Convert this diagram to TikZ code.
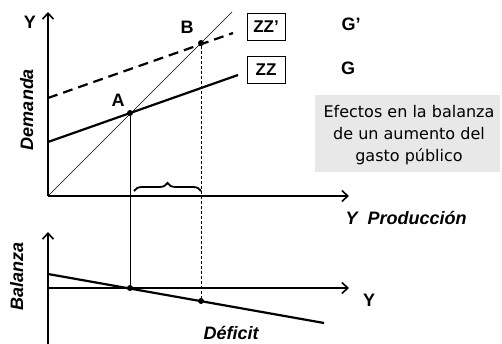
\documentclass[tikz,border=0pt]{standalone}
\usepackage{fontspec}
\setmainfont{Liberation Sans}
\newfontfamily\comicfont{DejaVu Sans}
\usetikzlibrary{arrows.meta,decorations.pathreplacing}
\begin{document}
\begin{tikzpicture}[x=1pt,y=-1pt,
  axis/.style={line width=2.2pt,-{Straight Barb[length=6pt,width=11pt,line width=1.6pt]}},
  curve/.style={line width=2.2pt},
  thinl/.style={line width=0.7pt},
  dot/.style={circle,fill=black,inner sep=0pt,minimum size=6pt},
  lbl/.style={font=\fontsize{18}{20}\selectfont\bfseries},
  ilbl/.style={font=\fontsize{18}{20}\selectfont\bfseries\itshape},
  zzbox/.style={draw,line width=0.8pt,minimum width=38pt,minimum height=27pt,inner sep=0pt,font=\fontsize{17}{19}\selectfont\bfseries}]
\useasboundingbox (0,0) rectangle (502,344);
% coordinates
\coordinate (O) at (48,196);
\coordinate (Ytop) at (48,12);
\coordinate (Xend) at (349,196);
\coordinate (D45) at (232,12);
\coordinate (Z0) at (48,142);
\coordinate (Z1) at (238,75);
\coordinate (Zp0) at (48,98);
\coordinate (Zp1) at (233,33);
\coordinate (LO) at (48,288);
\coordinate (LYtop) at (48,232);
\coordinate (LYbot) at (48,344);
\coordinate (LXend) at (349,288);
\coordinate (N0) at (48,274);
\coordinate (N1) at (324,323);
% gray box
\node[fill=black!9,minimum width=185pt,minimum height=77pt,inner sep=0pt,anchor=north west] (info) at (315,95) {};
\node[align=center,font=\comicfont\fontsize{16}{22}\selectfont] (infotxt) at (409,135) {Efectos en la balanza\\de un aumento del\\gasto público};
% upper axes
\draw[axis] (O) -- (Ytop);
\draw[axis] (O) -- (Xend);
\draw[thinl] (O) -- (D45);
\draw[curve] (Z0) -- (Z1);
\draw[curve,dash pattern=on 10pt off 6pt] (Zp0) -- (Zp1);
\node[dot] (A) at (130,113) {};
\node[dot] (B) at (201,43) {};
% lower axes
\draw[axis] (LYbot) -- (LYtop);
\draw[axis] (LO) -- (LXend);
\draw[curve] (N0) -- (N1);
\node[dot] (A2) at (130,288) {};
\node[dot] (B2) at (201,301) {};
% verticals
\draw[line width=0.8pt] (A) -- (A2);
\draw[line width=0.8pt,densely dashed] (B) -- (B2);
% brace
\coordinate (br0) at (134,191);
\coordinate (br1) at (201,191);
\draw[line width=1.8pt,decorate,decoration={brace,amplitude=8pt}] (br0) -- (br1);
% labels
\node[lbl] (Ylab) at (30,22) {Y};
\node[lbl] (Alab) at (118,100) {A};
\node[lbl] (Blab) at (187,27) {B};
\node[zzbox] (zzp) at (266,26.5) {ZZ'};
\node[zzbox] (zz) at (266,70) {ZZ};
\node[lbl] (Gp) at (351,24) {G'};
\node[lbl] (G) at (348,68) {G};
\node[ilbl,anchor=base west] (prod) at (342,225) {Y\ \ Producción};
\node[lbl] (Ylow) at (369,300) {Y};
\node[ilbl,anchor=base west] (def) at (200,339) {Déficit};
\node[ilbl,rotate=90,anchor=base] (dem) at (33,109.5) {Demanda};
\node[ilbl,rotate=90,anchor=base] (bal) at (23,276.5) {Balanza};
\end{tikzpicture}
\end{document}
